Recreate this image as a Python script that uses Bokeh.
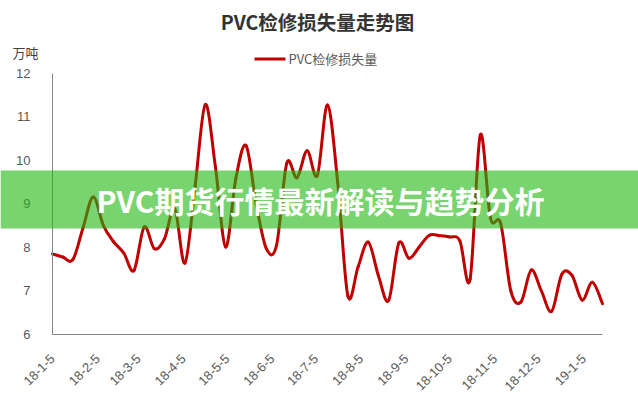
import pandas as pd
from bokeh.plotting import figure
from bokeh.models import FixedTicker, Range1d, Label, BoxAnnotation, ColumnDataSource
from bokeh.embed import file_html
from bokeh.resources import INLINE

# ---- data ----
start_date = "2018-01-05"
loss_values = [7.85, 7.78, 7.72, 8.45, 9.16, 8.50, 8.13, 7.87, 7.47, 8.47,
               7.97, 8.20, 8.89, 7.64, 9.40, 11.28, 9.84, 8.01, 9.58, 10.34,
               9.00, 7.97, 8.05, 9.93, 9.60, 10.22, 9.65, 11.27, 9.50, 6.89,
               7.55, 8.12, 7.35, 6.78, 8.10, 7.75, 8.01, 8.28, 8.27, 8.24,
               8.15, 7.27, 10.58, 8.68, 8.55, 7.00, 6.75, 7.48, 7.00, 6.53,
               7.38, 7.36, 6.79, 7.20, 6.71]
tick_dates = ["2018-01-05", "2018-02-05", "2018-03-05", "2018-04-05", "2018-05-05",
              "2018-06-05", "2018-07-05", "2018-08-05", "2018-09-05", "2018-10-05",
              "2018-11-05", "2018-12-05", "2019-01-05"]
tick_labels = ["18-1-5", "18-2-5", "18-3-5", "18-4-5", "18-5-5", "18-6-5", "18-7-5",
               "18-8-5", "18-9-5", "18-10-5", "18-11-5", "18-12-5", "19-1-5"]
y_ticks = [6, 7, 8, 9, 10, 11, 12]
series_name = "PVC检修损失量"
title_text = "PVC检修损失量走势图"
unit_text = "万吨"
banner_text = "PVC期货行情最新解读与趋势分析"

# ---- derived ----
t0 = pd.Timestamp(start_date)
dates = pd.date_range(t0, periods=len(loss_values), freq="7D")
days = [int((d - t0).days) for d in dates]
tick_days = [int((pd.Timestamp(d) - t0).days) for d in tick_dates]

# smooth (Excel-style) line: cubic Bezier segments through the data points
n = len(days)
seg = dict(x0=[], y0=[], x1=[], y1=[], cx0=[], cy0=[], cx1=[], cy1=[])
for i in range(n - 1):
    ip, i2 = max(i - 1, 0), min(i + 2, n - 1)
    seg["x0"].append(days[i]); seg["y0"].append(loss_values[i])
    seg["x1"].append(days[i + 1]); seg["y1"].append(loss_values[i + 1])
    seg["cx0"].append(days[i] + (days[i + 1] - days[ip]) / 6)
    seg["cy0"].append(loss_values[i] + (loss_values[i + 1] - loss_values[ip]) / 6)
    seg["cx1"].append(days[i + 1] - (days[i2] - days[i]) / 6)
    seg["cy1"].append(loss_values[i + 1] - (loss_values[i2] - loss_values[i]) / 6)
src = ColumnDataSource(seg)

# ---- layout (pixels on the canvas) ----
W, H = 638, 400
PL, PR, PT, PB = 52, 602, 72.7, 334
y_lo, y_hi = y_ticks[0], y_ticks[-1]
kx = (PR - PL) / (days[-1] - days[0])
ky = (PB - PT) / (y_hi - y_lo)
x_range = Range1d(days[0] - PL / kx, days[-1] + (W - PR) / kx)
y_range = Range1d(y_lo - (H - PB) / ky, y_hi + PT / ky)

p = figure(width=W, height=H, output_backend="svg", toolbar_location=None,
           x_range=x_range, y_range=y_range,
           min_border=0, min_border_left=0, min_border_right=0,
           min_border_top=0, min_border_bottom=0)
p.outline_line_color = None
p.xgrid.grid_line_color = None
p.ygrid.grid_line_color = None
p.background_fill_color = "white"

p.bezier(x0="x0", y0="y0", x1="x1", y1="y1", cx0="cx0", cy0="cy0", cx1="cx1", cy1="cy1",
         source=src, line_color="#c00000", line_width=3, line_cap="round")

ax_col = "#868686"
lab_col = "#595959"
p.yaxis.fixed_location = days[0]
p.yaxis.bounds = (y_lo, y_hi)
p.yaxis.ticker = FixedTicker(ticks=y_ticks)
p.yaxis.axis_line_color = ax_col
p.yaxis.major_tick_line_color = None
p.yaxis.minor_tick_line_color = None
p.yaxis.major_label_standoff = 16
p.yaxis.major_label_text_font = "Liberation Sans"
p.yaxis.major_label_text_font_size = "13px"
p.yaxis.major_label_text_color = lab_col

p.xaxis.fixed_location = y_lo
p.xaxis.bounds = (days[0], days[-1])
p.xaxis.ticker = FixedTicker(ticks=tick_days)
p.xaxis.major_label_overrides = {d: s for d, s in zip(tick_days, tick_labels)}
p.xaxis.major_label_orientation = 0.785398
p.xaxis.axis_line_color = ax_col
p.xaxis.major_tick_line_color = None
p.xaxis.minor_tick_line_color = None
p.xaxis.major_label_standoff = 16
p.xaxis.major_label_text_font = "Liberation Sans"
p.xaxis.major_label_text_font_size = "13px"
p.xaxis.major_label_text_color = lab_col

cjk = "Noto Sans CJK SC"
def canvas_label(x, y, text, size, color, bold=False, align="center"):
    p.add_layout(Label(x=x, y=y, x_units="canvas", y_units="canvas", text=text,
                       text_font=cjk, text_font_style="bold" if bold else "normal",
                       text_font_size=size, text_color=color,
                       text_align=align, text_baseline="middle"))

canvas_label(317, 21, title_text, "19.5px", "#333333", bold=True)
canvas_label(25, 52, unit_text, "13px", "#404040")
p.add_layout(BoxAnnotation(left=254, right=285, top=57, bottom=60,
                           left_units="canvas", right_units="canvas",
                           top_units="canvas", bottom_units="canvas",
                           fill_color="#c00000", fill_alpha=1, line_color=None))
canvas_label(288, 58, series_name, "13px", lab_col, align="left")

p.add_layout(BoxAnnotation(left=0, right=W, top=170, bottom=228,
                           left_units="canvas", right_units="canvas",
                           top_units="canvas", bottom_units="canvas",
                           fill_color="#1eb70d", fill_alpha=0.6, line_color=None))
canvas_label(320, 199, banner_text, "30px", "white", bold=True)

open("out.html", "w").write(file_html(p, INLINE))
